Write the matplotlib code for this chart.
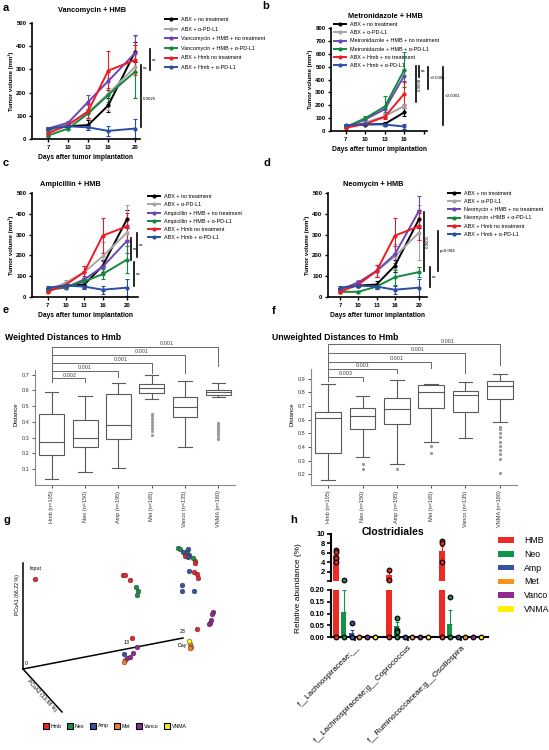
import matplotlib
matplotlib.use("Agg")
import matplotlib.pyplot as plt
from matplotlib.lines import Line2D
from matplotlib.patches import Patch

plt.rcParams['font.family'] = ['Liberation Sans', 'DejaVu Sans']

# ---- data ----

days = [7, 10, 13, 16, 20]
days_b = [7, 10, 13, 16]
line_colors = ['#000000', '#a6a6a6', '#6b46b8', '#13893d', '#ed1c24', '#2b4ea2']

# a: Vancomycin + HMB
vanco_vol = [[40, 55, 60, 145, 375], [30, 65, 115, 195, 310], [45, 70, 160, 250, 370],
             [15, 45, 110, 190, 290], [25, 60, 120, 295, 340], [45, 55, 50, 35, 45]]
vanco_err = [[8, 5, 20, 30, 45], [5, 10, 30, 70, 135], [5, 8, 30, 40, 80],
             [3, 5, 20, 30, 115], [5, 5, 30, 85, 65], [8, 5, 10, 20, 42]]
vanco_labels = ['ABX + no treatment', 'ABX + α-PD-L1', 'Vancomycin + HMB + no treatment',
                'Vancomycin + HMB + α-PD-L1', 'ABX + Hmb no treatment', 'ABX + Hmb + α-PD-L1']

# b: Metronidazole + HMB
metro_vol = [[40, 50, 55, 145], [30, 65, 115, 195], [30, 90, 170, 430],
             [30, 100, 190, 475], [25, 55, 110, 290], [45, 55, 50, 35]]
metro_err = [[5, 5, 15, 30], [5, 10, 20, 15], [5, 10, 25, 40],
             [5, 15, 85, 135], [5, 5, 20, 90], [8, 5, 10, 20]]
metro_labels = ['ABX + no treatment', 'ABX + α-PD-L1', 'Metronidazole + HMB + no treatment',
                'Metronidazole + HMB + α-PD-L1', 'ABX + Hmb + no treatment', 'ABX + Hmb + α-PD-L1']

# c: Ampicillin + HMB
ampi_vol = [[40, 55, 60, 150, 375], [30, 70, 120, 195, 310], [35, 45, 85, 145, 270],
            [35, 50, 75, 110, 180], [25, 60, 120, 295, 340], [45, 55, 50, 35, 45]]
ampi_err = [[5, 5, 15, 30, 45], [5, 10, 30, 70, 130], [5, 8, 15, 30, 60],
            [5, 5, 15, 25, 65], [5, 5, 30, 85, 65], [8, 5, 10, 20, 42]]
ampi_labels = ['ABX + no treatment', 'ABX + α-PD-L1', 'Ampicillin + HMB + no treatment',
               'Ampicillin + HMB + α-PD-L1', 'ABX + Hmb no treatment', 'ABX + Hmb + α-PD-L1']

# d: Neomycin + HMB
neo_vol = [[40, 55, 60, 150, 375], [30, 70, 125, 195, 310], [35, 70, 125, 205, 415],
           [25, 25, 50, 95, 120], [25, 60, 125, 295, 340], [45, 55, 50, 35, 45]]
neo_err = [[5, 5, 15, 30, 45], [5, 10, 30, 60, 130], [5, 8, 30, 40, 70],
           [3, 5, 10, 35, 25], [5, 5, 30, 85, 65], [8, 5, 10, 20, 42]]
neo_labels = ['ABX + no treatment', 'ABX + α-PD-L1', 'Neomycin + HMB + no treatment',
              'Neomycin +HMB + α-PD-L1', 'ABX + Hmb no treatment', 'ABX + Hmb + α-PD-L1']

# significance bars: (day position, y from, y to, text, rotation)
vanco_sig = [(20.9, 297, 319, 'ns', 0), (22.2, 297, 388, 'ns', 0), (20.9, 52, 293, '0.0025', 0)]
metro_sig = [(18.2, 420, 505, 'ns', 0), (17.8, 225, 505, '0.0008', 90),
             (19.6, 326, 497, '<0.0001', 0), (21.9, 47, 497, '<0.0001', 0)]
ampi_sig = [(20.6, 178, 284, 'ns', 0), (21.6, 192, 308, 'ns', 0), (21.1, 53, 168, 'ns', 0)]
neo_sig = [(20.8, 125, 409, '0.0001', 90), (23.1, 125, 317, 'p=0.004', 0), (21.8, 48, 144, 'ns', 0)]

# e / f: distances to Hmb (whislo, q1, median, q3, whishi)
dist_groups = ['Hmb (n=105)', 'Neo (n=150)', 'Amp (n=195)', 'Met (n=165)', 'Vanco (n=135)', 'VNMA (n=180)']
w_whislo = [0.04, 0.08, 0.11, 0.545, 0.24, 0.555]
w_q1 = [0.19, 0.24, 0.29, 0.585, 0.43, 0.57]
w_med = [0.275, 0.30, 0.38, 0.615, 0.495, 0.59]
w_q3 = [0.45, 0.41, 0.575, 0.64, 0.56, 0.605]
w_whishi = [0.59, 0.565, 0.645, 0.70, 0.66, 0.645]
w_fliers = [[], [], [], [0.32, 0.34, 0.36, 0.38, 0.40, 0.42, 0.44, 0.45], [],
            [0.29, 0.30, 0.32, 0.33, 0.34, 0.35, 0.36, 0.37, 0.38, 0.39]]
w_brackets = [(2, 0.675, 0.65, '0.002', 1.54), (3, 0.725, 0.687, '0.001', 2.0),
              (4, 0.776, 0.713, '0.001', 3.07), (5, 0.827, 0.713, '0.001', 3.69),
              (6, 0.877, 0.757, '0.001', 4.46)]

u_whislo = [0.16, 0.325, 0.28, 0.44, 0.466, 0.58]
u_q1 = [0.36, 0.53, 0.57, 0.685, 0.656, 0.75]
u_med = [0.61, 0.63, 0.68, 0.80, 0.78, 0.845]
u_q3 = [0.655, 0.685, 0.76, 0.85, 0.81, 0.88]
u_whishi = [0.863, 0.77, 0.89, 0.86, 0.875, 0.93]
u_fliers = [[], [0.28, 0.24], [0.24], [0.41, 0.36], [],
            [0.55, 0.53, 0.50, 0.47, 0.44, 0.41, 0.38, 0.35, 0.31, 0.21]]
u_brackets = [(2, 0.91, 0.88, '0.003', 1.5), (3, 0.97, 0.94, '0.001', 2.0),
              (4, 1.02, 0.98, '0.001', 3.0), (5, 1.09, 0.94, '0.001', 3.6),
              (6, 1.15, 1.0, '0.001', 4.47)]

# g: PCoA (projected coordinates)
pcoa_groups = ['Hmb', 'Neo', 'Amp', 'Met', 'Vanco', 'VNMA']
pcoa_colors = ['#e8262a', '#19904a', '#3553a5', '#f47f20', '#8e2a8f', '#f4ee1c']
pcoa_hmb = [(12, 90), (100, 94), (102, 94), (107, 89), (162, 116), (162, 113), (172, 108),
            (172, 106), (171, 97), (174, 95), (175, 91), (174, 40), (109, 31)]
pcoa_neo = [(113, 82), (115, 78), (114, 74), (155, 121), (157, 120), (164, 118), (170, 111)]
pcoa_amp = [(160, 117), (165, 120), (166, 114), (165, 112), (166, 98), (159, 84), (159, 78),
            (171, 78), (101, 15)]
pcoa_met = [(167, 25), (168, 22), (167, 21), (102, 9), (101, 7)]
pcoa_vanco = [(190, 57), (189, 55), (188, 49), (187, 46), (186, 45), (114, 22), (110, 16),
              (107, 12), (104, 11)]
pcoa_vnma = [(166, 28)]

# h: Clostridiales
h_taxa = ['f__Lachnospiraceae;__', 'f__Lachnospiraceae;g__Coprococcus', 'f__Ruminococcaceae;g__Oscillospira']
h_groups = ['HMB', 'Neo', 'Amp', 'Met', 'Vanco', 'VNMA']
h_colors = ['#ee2a24', '#13934a', '#3453a4', '#f7941d', '#92278f', '#fff200']
h_mean = [[5.5, 1.3, 6.4], [0.105, 0.045, 0.055], [0.015, 0, 0], [0, 0, 0], [0, 0, 0], [0, 0, 0]]
h_err = [[0.6, 0.7, 1.0], [0.095, 0.02, 0.06], [0.015, 0, 0], [0, 0, 0], [0, 0, 0], [0, 0, 0]]
h_points = [[[6.7, 6.2, 5.0, 4.0, 0], [2.4, 0.35, 0], [8.6, 8.0, 4.1, 0]],
            [[0.21, 0], [0.08, 0.03, 0.02, 0], [0.17, 0]],
            [[0.06, 0], [0], [0]],
            [[0], [0], [0]], [[0], [0], [0]], [[0], [0], [0]]]

# ---- layout helpers ----
W, H = 549, 750
fig = plt.figure(figsize=(W / 100, H / 100), dpi=100)


def px_axes(l, t, r, b):
    return fig.add_axes([l / W, 1 - b / H, (r - l) / W, (b - t) / H])


def fxy(x, y):
    return (x / W, 1 - y / H)


def tumor_panel(ax, x, vols, errs, labels, sig, ymax, xlim, xticks, xtlabels,
                title, title_xy, leg_xy, leg_space):
    for v, e, c in zip(vols, errs, line_colors):
        ax.errorbar(x, v, yerr=e, color=c, lw=1.4, marker='o', ms=2,
                    elinewidth=0.8, capsize=1.5, capthick=0.8)
    ax.set_xlim(*xlim)
    ax.set_ylim(0, ymax)
    ax.set_yticks(range(0, ymax + 1, 100))
    ax.set_xticks(xticks, xtlabels)
    for s in ['top', 'right']:
        ax.spines[s].set_visible(False)
    for s in ['left', 'bottom']:
        ax.spines[s].set_linewidth(1.2)
    ax.tick_params(labelsize=4.3, width=1, length=2.5, pad=1.5)
    for lb in ax.get_xticklabels() + ax.get_yticklabels():
        lb.set_fontweight('bold')
    ax.set_ylabel('Tumor volume (mm³)', fontsize=4.3, fontweight='bold', labelpad=2)
    ax.set_xlabel('Days after tumor implantation', fontsize=4.8, fontweight='bold', labelpad=3)
    fig.text(*fxy(*title_xy), title, fontsize=5.3, fontweight='bold', ha='center', va='center')
    for xs, y0, y1, txt, rot in sig:
        ax.plot([xs, xs], [y0, y1], color='k', lw=1.2, clip_on=False)
        ax.text(xs + 0.3, (y0 + y1) / 2, txt, fontsize=3.2, rotation=rot,
                va='center', ha='left', clip_on=False)
    handles = [Line2D([], [], color=c, lw=1.4, marker='o', ms=2) for c in line_colors]
    fig.legend(handles, labels, loc='upper left', bbox_to_anchor=fxy(*leg_xy), frameon=False,
               fontsize=3.9, handlelength=2.3, handletextpad=0.6, labelspacing=leg_space,
               borderpad=0, borderaxespad=0)


def dist_panel(ax, whislo, q1, med, q3, whishi, fliers, brackets, ylim, yticks, spine_top):
    stats = [dict(whislo=a, q1=b, med=c, q3=d, whishi=e, fliers=f)
             for a, b, c, d, e, f in zip(whislo, q1, med, q3, whishi, fliers)]
    gc = '#5a5a5a'
    ax.bxp(stats, positions=range(1, 7), widths=0.75, capwidths=0.4, patch_artist=True,
           boxprops=dict(facecolor='white', edgecolor=gc, lw=0.8),
           medianprops=dict(color=gc, lw=0.8), whiskerprops=dict(color=gc, lw=0.8),
           capprops=dict(color=gc, lw=0.8),
           flierprops=dict(marker='o', ms=1.3, mfc='#9a9a9a', mec='#9a9a9a'))
    ax.set_xlim(0.5, 6.5)
    ax.set_ylim(*ylim)
    ax.set_yticks(yticks, [f'{t:.1f}' for t in yticks])
    ax.set_xticks(range(1, 7), dist_groups, rotation=90)
    for s in ['top', 'right']:
        ax.spines[s].set_visible(False)
    ax.spines['left'].set_bounds(ylim[0], spine_top)
    for s in ['left', 'bottom']:
        ax.spines[s].set_color('#888888')
        ax.spines[s].set_linewidth(0.8)
    ax.tick_params(labelsize=4, width=0.6, length=2, pad=2, colors='#333333')
    ax.set_ylabel('Distance', fontsize=4.3, labelpad=2)
    left_drop = brackets[0][2]
    for tgt, lev, drop, txt, tx in brackets:
        ax.plot([1, 1, tgt, tgt], [left_drop, lev, lev, drop], color='#666666', lw=0.7, clip_on=False)
        ax.text(tx, lev + 0.006, txt, fontsize=4, ha='center', va='bottom', color='#444444')


# ---- a-d ----
ax_a = px_axes(32, 23, 140, 139)
tumor_panel(ax_a, days, vanco_vol, vanco_err, vanco_labels, vanco_sig, 500, (4.6, 20.75),
            days, [str(d) for d in days], 'Vancomycin + HMB', (92, 10), (165, 17), 0.85)

ax_b = px_axes(331, 28, 427, 131)
tumor_panel(ax_b, days_b, metro_vol, metro_err, metro_labels, metro_sig, 800, (4.7, 19.5),
            [7, 10, 13, 16, 19], ['7', '10', '13', '16', ''], 'Metronidazole + HMB', (385, 17),
            (334, 22), 0.6)

ax_c = px_axes(32, 193, 138, 297)
tumor_panel(ax_c, days, ampi_vol, ampi_err, ampi_labels, ampi_sig, 500, (4.4, 21.8),
            days, [str(d) for d in days], 'Ampicillin + HMB', (70, 185), (148, 194), 0.6)

ax_d = px_axes(328, 193, 427, 297)
tumor_panel(ax_d, days, neo_vol, neo_err, neo_labels, neo_sig, 500, (5.0, 21.3),
            days, [str(d) for d in days], 'Neomycin + HMB', (373, 185), (448, 191), 0.58)

# ---- e, f ----
fig.text(*fxy(5, 338), 'Weighted Distances to Hmb', fontsize=6.3, fontweight='bold', va='center')
ax_e = px_axes(35, 343, 235, 485)
dist_panel(ax_e, w_whislo, w_q1, w_med, w_q3, w_whishi, w_fliers, w_brackets,
           (0, 0.9), [0.1, 0.2, 0.3, 0.4, 0.5, 0.6, 0.7], 0.73)

fig.text(*fxy(272, 338), 'Unweighted Distances to Hmb', fontsize=6.3, fontweight='bold', va='center')
ax_f = px_axes(311, 343, 517, 485)
dist_panel(ax_f, u_whislo, u_q1, u_med, u_q3, u_whishi, u_fliers, u_brackets,
           (0.123, 1.16), [0.2, 0.3, 0.4, 0.5, 0.6, 0.7, 0.8, 0.9], 0.97)

# ---- g ----
ax_g = px_axes(0, 520, 270, 735)
ax_g.set_xlim(-23, 247)
ax_g.set_ylim(-66, 149)
ax_g.axis('off')
ax_g.plot([0, 0], [0, 106], color='k', lw=1.1)
ax_g.plot([0, 160], [0, 31], color='k', lw=1.1)
ax_g.plot([0, 39], [0, -43], color='k', lw=1.1)
ax_g.text(3, 3, '0', fontsize=3.8, ha='center', va='bottom')
ax_g.text(104, 24, '13', fontsize=3.8, ha='center', va='bottom')
ax_g.text(160, 35, '23', fontsize=3.8, ha='center', va='bottom')
ax_g.text(159, 24, 'Day', fontsize=3.8, ha='center', va='center')
ax_g.text(12, 98, 'Input', fontsize=3.8, ha='center', va='bottom')
ax_g.text(-6, 74, 'PCoA1 (66.22 %)', fontsize=3.8, rotation=90, ha='center', va='center')
ax_g.text(19, -27, 'PCoA2 (13.88 %)', fontsize=3.8, rotation=-48, ha='center', va='center')
for pts, c in zip([pcoa_hmb, pcoa_neo, pcoa_amp, pcoa_met, pcoa_vanco, pcoa_vnma], pcoa_colors):
    ax_g.scatter([p[0] for p in pts], [p[1] for p in pts], s=12, color=c,
                 edgecolors='#333333', linewidths=0.3, zorder=3)
g_handles = [Line2D([], [], ls='', marker='s', ms=5, mfc=c, mec='k', mew=0.8) for c in pcoa_colors]
fig.legend(g_handles, pcoa_groups, loc='center', bbox_to_anchor=fxy(115, 726), ncol=6,
           frameon=False, fontsize=3.8, handlelength=1.0, handletextpad=0.3, columnspacing=1.2,
           borderpad=0)

# ---- h ----
ax_ht = px_axes(331, 534, 488, 581.4)
ax_hb = px_axes(331, 590, 488, 637)
centers = [0, 6.8, 13.6]
offsets = [-2.5, -1.5, -0.5, 0.5, 1.5, 2.5]
for gi, (c, m, e, pts) in enumerate(zip(h_colors, h_mean, h_err, h_points)):
    xs = [cx + offsets[gi] for cx in centers]
    for x, mv, ev, p in zip(xs, m, e, pts):
        axes_here = [ax_hb] + ([ax_ht] if mv > 0.2 else [])
        for ax in axes_here:
            ax.bar(x, mv, width=0.65, color=c)
            if ev > 0:
                ax.errorbar(x, mv, yerr=[[0], [ev]], fmt='none', ecolor=c, elinewidth=0.8,
                            capsize=1.5, capthick=0.8)
        top = [v for v in p if v > 0.2]
        bot = [v for v in p if v <= 0.2]
        ax_ht.plot([x] * len(top), top, ls='', marker='o', ms=3.3, mfc=c, mec='k', mew=0.9,
                   clip_on=False, zorder=4)
        ax_hb.plot([x] * len(bot), bot, ls='', marker='o', ms=3.3, mfc=c, mec='k', mew=0.9,
                   clip_on=False, zorder=4)
for ax in (ax_ht, ax_hb):
    ax.set_xlim(-3.14, 17.0)
    for s in ['top', 'right']:
        ax.spines[s].set_visible(False)
    ax.spines['left'].set_linewidth(1.5)
    ax.tick_params(width=1.2, length=3, labelsize=5.5, pad=1.5)
ax_ht.spines['bottom'].set_visible(False)
ax_ht.set_xticks([])
ax_ht.set_ylim(0, 10)
ax_ht.set_yticks([0, 2, 4, 6, 8, 10], ['', '2', '4', '6', '8', '10'])
ax_hb.set_ylim(0, 0.2)
ax_hb.set_yticks([0, 0.05, 0.1, 0.15, 0.2], ['0.00', '0.05', '0.10', '0.15', '0.20'])
ax_hb.spines['bottom'].set_linewidth(1.5)
ax_hb.set_xticks(centers, h_taxa, rotation=45, ha='right', rotation_mode='anchor')
ax_hb.tick_params(axis='x', labelsize=5.8, pad=2)
for ax in (ax_ht, ax_hb):
    for lb in ax.get_yticklabels():
        lb.set_fontweight('bold')
fig.text(*fxy(393, 532), 'Clostridiales', fontsize=7.5, fontweight='bold', ha='center', va='center')
fig.text(*fxy(299, 588), 'Relative abundance (%)', fontsize=6, rotation=90, ha='center', va='center')
h_handles = [Patch(facecolor=c, edgecolor='none') for c in h_colors]
fig.legend(h_handles, h_groups, loc='upper left', bbox_to_anchor=fxy(498, 536), frameon=False,
           fontsize=6.3, handlelength=1.8, handleheight=0.6, handletextpad=1.2, labelspacing=0.55,
           borderpad=0, borderaxespad=0)

# ---- panel letters ----
for lt, (x, y) in zip('abcdefgh', [(3, 8), (262, 6), (3, 163), (263, 163), (3, 310), (272, 311),
                                   (3, 520), (290, 520)]):
    fig.text(*fxy(x, y), lt, fontsize=8, fontweight='bold', ha='left', va='center')

fig.savefig('out.png', dpi=100)
